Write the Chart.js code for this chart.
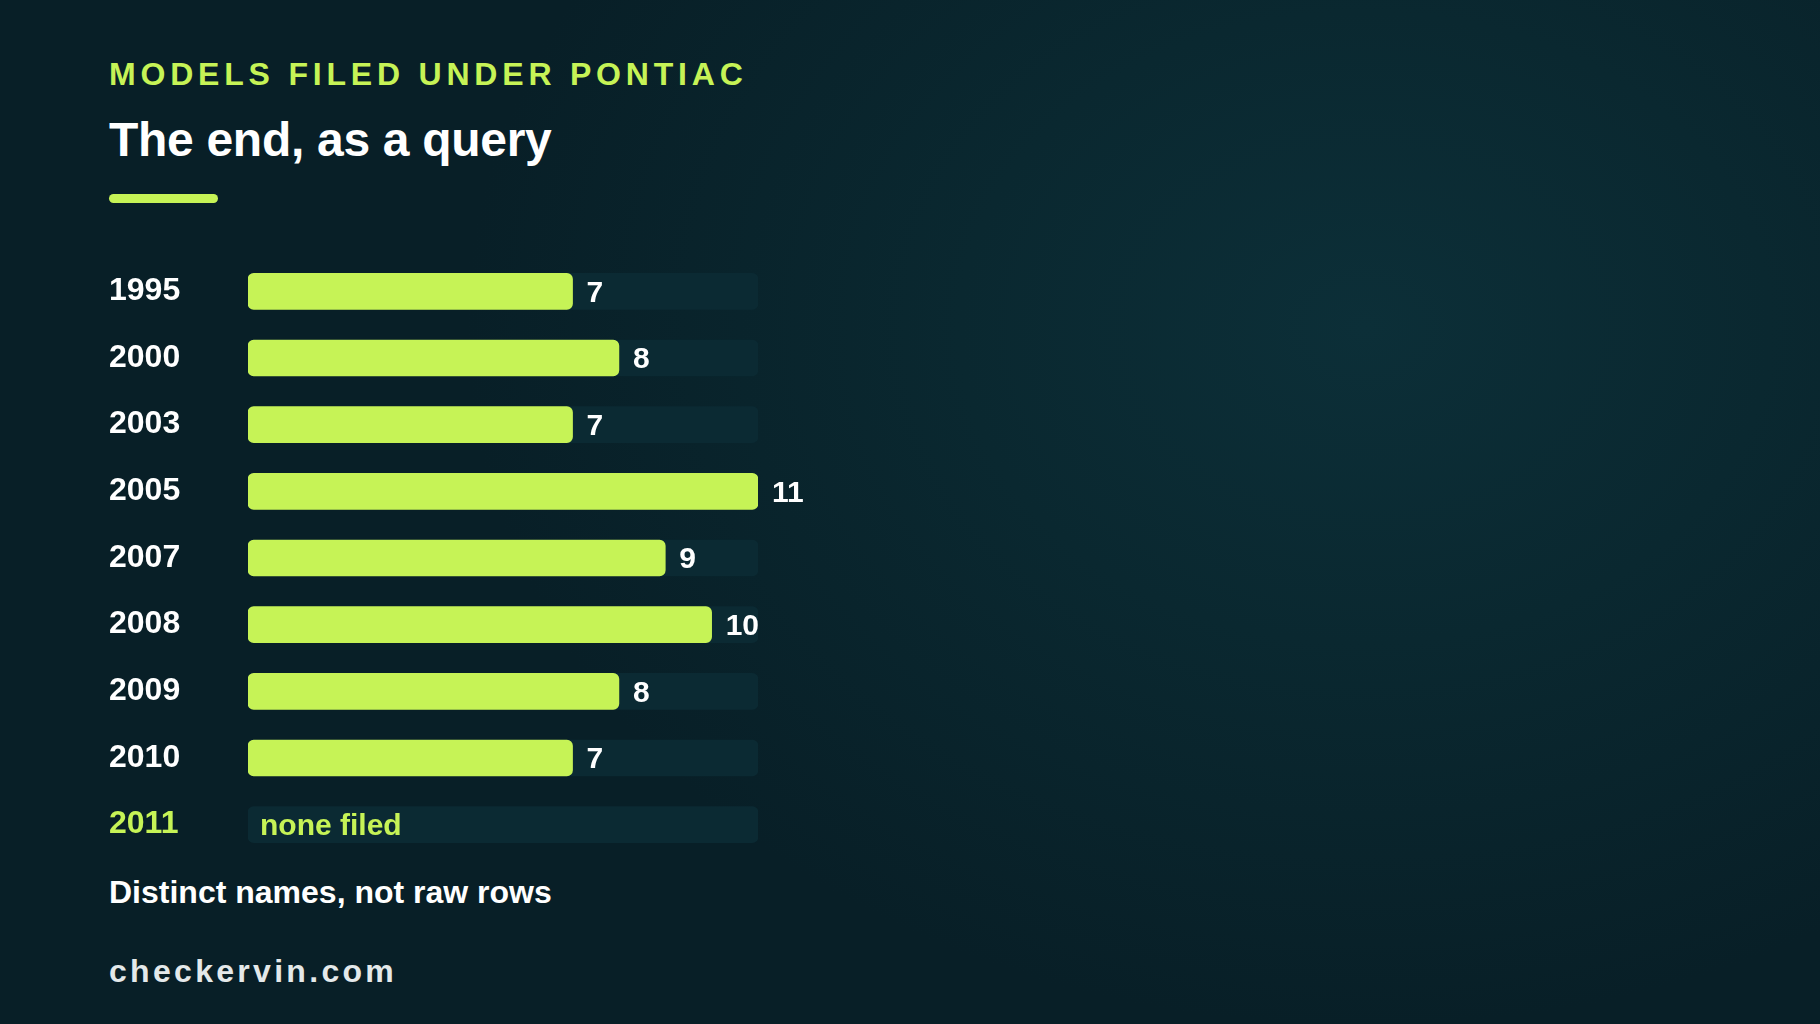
<!DOCTYPE html>
<html>
<head>
<meta charset="utf-8">
<title>The end, as a query</title>
<script src="https://cdn.jsdelivr.net/npm/chart.js@4/dist/chart.umd.min.js"></script>
<style>
    html, body {
        margin: 0;
        padding: 0;
        width: 1820px;
        height: 1024px;
        overflow: hidden;
        font-family: "Liberation Sans", Arial, Helvetica, sans-serif;
        background: radial-gradient(ellipse 900px 700px at 75% 32%, #0c2f38 0%, #0a2830 45%, #081f27 100%);
    }
    .txt {
        position: absolute;
        left: 109px;
        margin: 0;
        line-height: 1;
        font-weight: bold;
        white-space: nowrap;
    }
    #kicker { top: 58px; font-size: 32px; letter-spacing: 4.8px; color: #c6f356; }
    #title { top: 116px; font-size: 48px; color: #ffffff; letter-spacing: -0.3px; }
    #accent { position: absolute; left: 109px; top: 194px; width: 109px; height: 9px; border-radius: 5px; background: #c6f356; }
    #note { top: 876px; font-size: 32px; color: #ffffff; }
    #site { top: 955px; font-size: 32px; letter-spacing: 3.3px; color: #e4e9ea; }
    #chartBox { position: absolute; left: 0; top: 0; width: 1820px; height: 1024px; }
</style>
</head>
<body>
<div class="txt" id="kicker">MODELS FILED UNDER PONTIAC</div>
<div class="txt" id="title">The end, as a query</div>
<div id="accent"></div>
<div class="txt" id="note">Distinct names, not raw rows</div>
<div class="txt" id="site">checkervin.com</div>
<div id="chartBox"><canvas id="modelsChart" width="1820" height="1024"></canvas></div>

<script>
// model years and distinct model names filed under Pontiac
var years = ['1995', '2000', '2003', '2005', '2007', '2008', '2009', '2010', '2011'];
var models = [7, 8, 7, 11, 9, 10, 8, 7, 0];
var trackMax = 11;

var lime = '#c6f356';
var trackColor = '#0b2a33';
var font = '"Liberation Sans", Arial, Helvetica, sans-serif';

// value at the end of each bar, or "none filed" inside the empty track
var valueLabels = {
    id: 'valueLabels',
    afterDatasetsDraw: function(chart) {
        var ctx = chart.ctx;
        var meta = chart.getDatasetMeta(1);
        var xScale = chart.scales.x;
        ctx.save();
        ctx.textBaseline = 'middle';
        ctx.textAlign = 'left';
        meta.data.forEach(function(bar, i) {
            var v = models[i];
            if (v > 0) {
                ctx.font = 'bold 30px ' + font;
                ctx.fillStyle = '#ffffff';
                ctx.fillText(String(v), bar.x + 14, bar.y + 2);
            } else {
                ctx.font = 'bold 30px ' + font;
                ctx.fillStyle = lime;
                ctx.fillText('none filed', xScale.left + 12, bar.y + 2);
            }
        });
        ctx.restore();
    }
};

var ctx = document.getElementById('modelsChart').getContext('2d');
new Chart(ctx, {
    type: 'bar',
    data: {
        labels: years,
        datasets: [{
            label: 'track',
            data: years.map(function() { return trackMax; }),
            backgroundColor: trackColor,
            borderRadius: 6,
            borderSkipped: false,
            barThickness: 36,
            grouped: false,
            order: 2
        }, {
            label: 'Models',
            data: models,
            backgroundColor: function(c) { return models[c.dataIndex] > 0 ? lime : 'rgba(0,0,0,0)'; },
            borderRadius: 6,
            borderSkipped: false,
            barThickness: 36,
            grouped: false,
            order: 1
        }]
    },
    options: {
        indexAxis: 'y',
        responsive: false,
        animation: false,
        events: [],
        layout: {
            padding: { left: 109, right: 1062, top: 258, bottom: 166 }
        },
        plugins: {
            legend: { display: false },
            tooltip: { enabled: false },
            title: { display: false }
        },
        scales: {
            x: {
                display: false,
                min: 0,
                max: trackMax
            },
            y: {
                grid: { display: false },
                border: { display: false },
                afterFit: function(scale) { scale.width = 139; },
                ticks: {
                    crossAlign: 'far',
                    padding: 0,
                    font: { family: font, size: 32, weight: 'bold' },
                    color: function(c) { return models[c.index] > 0 ? '#ffffff' : lime; }
                }
            }
        }
    },
    plugins: [valueLabels]
});
</script>
</body>
</html>
